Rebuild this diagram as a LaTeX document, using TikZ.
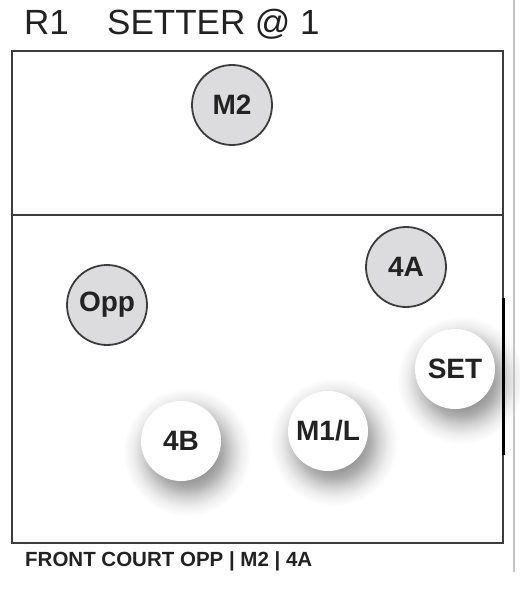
\documentclass[tikz,border=0pt]{standalone}
\usepackage{fontspec}
\setmainfont{Liberation Sans}
\definecolor{courtline}{HTML}{3C3C3C}
\definecolor{grayfill}{HTML}{DCDCDE}
\definecolor{edgegray}{HTML}{C4C4C4}
\definecolor{txt}{HTML}{222222}
\pgfdeclareradialshading{softshadow}{\pgfpoint{0bp}{0bp}}{%
  color(0bp)=(black!42);
  color(11bp)=(black!40);
  color(14bp)=(black!32);
  color(17.5bp)=(black!18);
  color(21bp)=(black!7);
  color(25bp)=(white);
  color(50bp)=(white)}
\tikzset{
  player/.style={circle, minimum size=80pt, inner sep=0pt, font=\fontsize{28}{28}\selectfont\bfseries, text=txt},
  front/.style={player, draw=courtline, line width=1.8pt, fill=grayfill},
  back/.style={player, fill=white},
  shadowdisc/.style={shading=softshadow},
  court/.style={draw=courtline, line width=2.2pt},
}
\begin{document}
\begin{tikzpicture}[x=1pt, y=-1pt]
\useasboundingbox (0,0) rectangle (519,604);
\fill[white] (0,0) rectangle (519,604);
% shadows of back-row players
\foreach \cx/\cy in {455/369, 181/441, 328/431}
  \shade[shadowdisc] (\cx+6,\cy+11) circle (64pt);
% outer gray edge
\draw[edgegray, line width=1.5pt] (514,0) coordinate (e1) -- (514,572) coordinate (e2);
% court
\draw[court] (12,51) rectangle (503,543);
\draw[court] (12,215) coordinate (d1) -- (503,215) coordinate (d2);
\draw[black, line width=3pt] (503,298) coordinate (s1) -- (503,455) coordinate (s2);
% titles
\node[anchor=base west, inner sep=0pt, text=txt, font=\fontsize{35}{35}\selectfont] (r1) at (24,35) {R1};
\node[anchor=base west, inner sep=0pt, text=txt, font=\fontsize{35}{35}\selectfont] (title) at (107,35) {SETTER @ 1};
\node[anchor=base west, inner sep=0pt, text=txt, font=\fontsize{20.5}{20.5}\selectfont\bfseries] (foot) at (25,566) {FRONT COURT OPP | M2 | 4A};
% players
\node[front] (m2) at (232,105) {M2};
\node[front] (fa) at (406,267) {4A};
\node[front] (opp) at (107,305) {Opp};
\node[back] (set) at (455,369) {SET};
\node[back] (fb) at (181,441) {4B};
\node[back] (m1) at (328,431) {M1/L};
\end{tikzpicture}
\end{document}
